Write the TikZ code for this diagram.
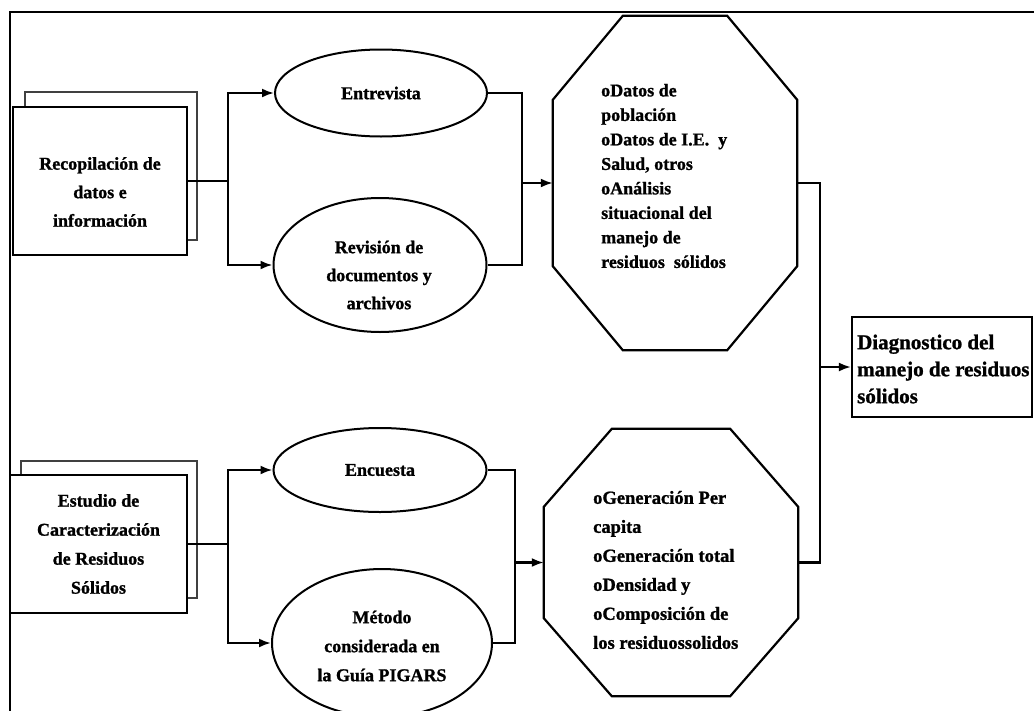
\documentclass[tikz,border=0pt]{standalone}
\usepackage{fontspec}
\setmainfont{Liberation Serif}[BoldFeatures={FakeBold=1.2}]
\usetikzlibrary{arrows.meta,calc,shapes.geometric}
\begin{document}
\begin{tikzpicture}[x=1pt,y=-1pt,
  frontbox/.style={draw, line width=2.4pt, fill=white, inner sep=0pt},
  backbox/.style={draw=black!75, line width=1.2pt, inner sep=0pt},
  oval/.style={ellipse, draw, line width=2pt, inner sep=0pt},
  txt/.style={font=\fontsize{18}{28.5}\selectfont\bfseries, align=center, inner sep=0pt},
  octtxt/.style={font=\fontsize{18}{24.5}\selectfont\bfseries, align=left, inner sep=0pt, anchor=west},
  octo/.style={draw, line width=2.2pt},
  conn/.style={line width=2.2pt},
  arr/.style={line width=2.2pt, -{Latex[length=12pt,width=9pt]}},
]
\useasboundingbox (0,0) rectangle (1034,710);
\fill[white] (0,0) rectangle (1034,710);
% outer frame
\draw[line width=2pt] (10,720) -- (10,12) -- (1040,12);

% left boxes
\node[backbox, minimum width=172pt, minimum height=148pt] (bk1) at (111,166) {};
\node[frontbox, minimum width=174pt, minimum height=148pt] (b1) at (100,181) {};
\node[txt] (b1t) at (100,192) {Recopilación de\\datos e\\información};

\node[backbox, minimum width=176pt, minimum height=137pt] (bk2) at (109,529.5) {};
\node[frontbox, minimum width=177pt, minimum height=138pt, txt, font=\fontsize{18}{29}\selectfont\bfseries] (b2) at (98.5,544) {Estudio de\\Caracterización\\de Residuos\\Sólidos};

% ellipses
\node[oval, minimum width=212pt, minimum height=87pt, txt] (e1) at (381,93) {Entrevista};
\node[oval, minimum width=213pt, minimum height=134pt] (e2) at (380,265) {};
\node[txt, font=\fontsize{18}{28}\selectfont\bfseries] (e2t) at (379,275) {Revisión de\\documentos y\\archivos};
\node[oval, minimum width=213pt, minimum height=84pt, txt] (e3) at (380,470) {Encuesta};
\node[oval, minimum width=220pt, minimum height=148pt] (e4) at (382,643) {};
\node[txt, font=\fontsize{18}{29}\selectfont\bfseries] (e4t) at (382,646) {Método\\considerada en\\la Guía PIGARS};

% octagons
\node[minimum width=244pt, minimum height=334pt, inner sep=0pt] (o1) at (675,183) {};
\draw[octo] ($(o1.north west)+(70,0)$) -- ($(o1.north east)+(-70,0)$) -- ($(o1.north east)+(0,84)$)
  -- ($(o1.south east)+(0,-84)$) -- ($(o1.south east)+(-70,0)$) -- ($(o1.south west)+(70,0)$)
  -- ($(o1.south west)+(0,-84)$) -- ($(o1.north west)+(0,84)$) -- cycle;
\node[octtxt] (o1t) at (601,176) {oDatos de\\población\\oDatos de I.E.\ \ y\\Salud, otros\\oAnálisis\\situacional del\\manejo de\\residuos\ \ sólidos};

\node[minimum width=254pt, minimum height=267pt, inner sep=0pt] (o2) at (671,562.5) {};
\draw[octo] ($(o2.north west)+(68,0)$) -- ($(o2.north east)+(-68,0)$) -- ($(o2.north east)+(0,78)$)
  -- ($(o2.south east)+(0,-78)$) -- ($(o2.south east)+(-68,0)$) -- ($(o2.south west)+(68,0)$)
  -- ($(o2.south west)+(0,-78)$) -- ($(o2.north west)+(0,78)$) -- cycle;
\node[octtxt, font=\fontsize{18.5}{29}\selectfont\bfseries] (o2t) at (593,570) {oGeneración Per\\capita\\oGeneración total\\oDensidad y\\oComposición de\\los residuossolidos};

% result box
\node[draw, line width=2.2pt, minimum width=180pt, minimum height=100pt, inner sep=0pt] (diag) at (942,367) {};
\node[anchor=west, align=left, inner sep=0pt, font=\fontsize{21}{27}\selectfont\bfseries] (diagt) at (857,369) {Diagnostico del\\manejo de residuos\\sólidos};

% connectors
\coordinate (j1) at (228,181);
\draw[conn] (b1.east) -- (j1);
\draw[arr] (j1) |- (e1.west);
\draw[arr] (j1) |- (e2.west);
\coordinate (k1) at (522,183);
\draw[conn] (e1.east) -| (k1);
\draw[conn] (e2.east) -| (k1);
\draw[arr] (k1) -- (o1.west);

\coordinate (j2) at (228,544);
\draw[conn] (b2.east) -- (j2);
\draw[arr] (j2) |- (e3.west);
\draw[arr] (j2) |- (e4.west);
\coordinate (k2) at (515,562.5);
\draw[conn] (e3.east) -| (k2);
\draw[conn] (e4.east) -| (k2);
\draw[arr] (k2) -- (o2.west);

\coordinate (m) at (820,367);
\draw[conn] (o1.east) -| (m);
\draw[conn] (o2.east) -| (m);
\draw[arr] (m) -- (diag.west);
\end{tikzpicture}
\end{document}
